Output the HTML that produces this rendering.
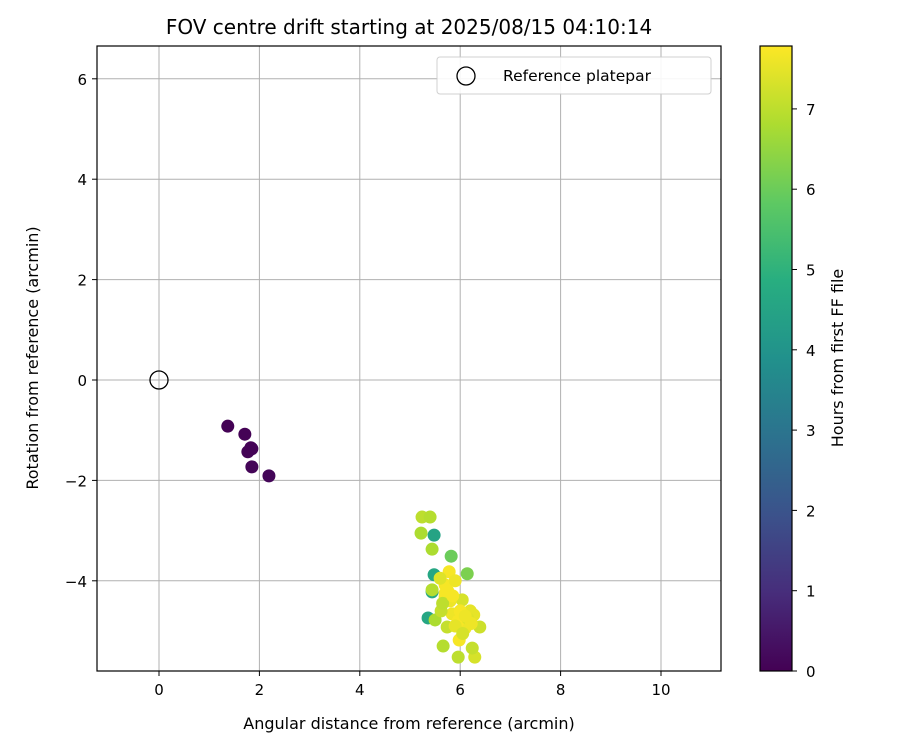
<!DOCTYPE html>
<html><head><meta charset="utf-8"><style>
body{margin:0;background:#fff;font-family:"DejaVu Sans","Liberation Sans",sans-serif}
text{font-family:"DejaVu Sans","Liberation Sans",sans-serif}
</style></head><body>
<svg id="chart" width="900" height="750" viewBox="0 0 900 750">
<defs><linearGradient id="vir" x1="0" y1="1" x2="0" y2="0">
<stop offset="0" stop-color="#440154"/><stop offset="0.125" stop-color="#472d7b"/><stop offset="0.25" stop-color="#3b528b"/><stop offset="0.375" stop-color="#2c728e"/><stop offset="0.5" stop-color="#21918c"/><stop offset="0.625" stop-color="#28ae80"/><stop offset="0.75" stop-color="#5ec962"/><stop offset="0.875" stop-color="#addc30"/><stop offset="1" stop-color="#fde725"/></linearGradient></defs>
<text x="409" y="34" font-size="20" text-anchor="middle">FOV centre drift starting at 2025/08/15 04:10:14</text>
<g id="grid"></g><g id="pts"></g>
<rect x="97" y="46" width="624" height="625" fill="none" stroke="#000" stroke-width="1.2"/>
<g id="ticks"></g>
<text x="409" y="729" font-size="16" text-anchor="middle">Angular distance from reference (arcmin)</text>
<text transform="translate(38,358) rotate(-90)" font-size="16" text-anchor="middle">Rotation from reference (arcmin)</text>
<g>
<rect x="437" y="57" width="274" height="37" rx="3" fill="#fff" stroke="#ccc" opacity="0.9"/>
<circle cx="466" cy="76" r="9" fill="none" stroke="#000" stroke-width="1.3"/>
<text x="503" y="81" font-size="15.5">Reference platepar</text></g>
<rect x="760" y="46" width="32" height="625" fill="url(#vir)" stroke="#000" stroke-width="1.2"/>
<g id="cbticks"></g>
<text transform="translate(843,358) rotate(-90)" font-size="16" text-anchor="middle">Hours from first FF file</text>
</svg>
<script>
const xs=[1.37,1.71,1.85,1.77,1.85,2.19,1.83,5.24,5.40,5.22,5.48,5.44,5.82,5.48,6.14,5.78,5.44,5.44,5.70,5.70,6.04,5.36,5.50,5.74,5.84,6.27,6.10,6.39,5.96,5.66,5.96,6.29,6.24,5.98,5.60,5.90,5.70,6.20,5.62,5.80,6.00,6.15,5.75,5.90,6.05,6.22,5.65,5.85,6.10];
const ys=[-0.92,-1.08,-1.37,-1.43,-1.73,-1.91,-1.35,-2.73,-2.73,-3.05,-3.09,-3.37,-3.51,-3.88,-3.86,-3.82,-4.22,-4.18,-4.08,-4.32,-4.38,-4.74,-4.78,-4.92,-4.66,-4.68,-4.94,-4.92,-4.80,-5.30,-5.52,-5.52,-5.34,-5.18,-3.95,-4.00,-4.25,-4.60,-4.60,-4.40,-4.60,-4.75,-4.20,-4.90,-5.05,-4.85,-4.45,-4.30,-4.70];
const hours=[0.02,0.03,0.05,0.06,0.08,0.1,0.05,7.0,6.9,6.8,4.5,6.8,6.0,4.6,6.2,7.7,4.7,6.9,7.7,7.6,7.3,4.6,6.8,7.1,7.6,7.5,7.6,7.2,7.7,6.9,7.0,7.3,7.1,7.7,7.4,7.6,7.7,7.5,7.1,7.6,7.7,7.4,7.7,7.5,7.3,7.6,7.0,7.7,7.6];
const xTicks=[0,2,4,6,8,10];
const yTicks=[-4,-2,0,2,4,6];
const cTicks=[0,1,2,3,4,5,6,7];
const NS='http://www.w3.org/2000/svg';
const X=v=>159+(v)*50.2, Y=v=>380-(v)*50.2, C=v=>671-v*80.3;
const vir=['#440154','#472d7b','#3b528b','#2c728e','#21918c','#28ae80','#5ec962','#addc30','#fde725'];
function col(h){let t=Math.max(0,Math.min(1,h/7.78))*8;let i=Math.min(7,Math.floor(t)),f=t-i;
const a=vir[i],b=vir[i+1];const p=(s,k)=>parseInt(s.substr(k,2),16);
let r=[1,3,5].map(k=>Math.round(p(a,k)+(p(b,k)-p(a,k))*f));return `rgb(${r})`;}
function mk(tag,at,par,txt){const e=document.createElementNS(NS,tag);for(const k in at)e.setAttribute(k,at[k]);if(txt!=null)e.textContent=txt;document.getElementById(par).appendChild(e);return e;}
xTicks.forEach(v=>{
const g=mk('line',{x1:X(v),x2:X(v),y1:46,y2:671,stroke:'#b0b0b0','stroke-width':1},'grid');


const t=mk('line',{x1:X(v),x2:X(v),y1:671,y2:676,stroke:'#000'},'ticks');


const l=mk('text',{x:X(v),y:695,'font-size':15,'text-anchor':'middle'},'ticks',v);

});
yTicks.forEach(v=>{
const g=mk('line',{x1:97,x2:721,y1:Y(v),y2:Y(v),stroke:'#b0b0b0','stroke-width':1},'grid');


const t=mk('line',{x1:92,x2:97,y1:Y(v),y2:Y(v),stroke:'#000'},'ticks');


const l=mk('text',{x:87,y:Y(v)+6,'font-size':15,'text-anchor':'end'},'ticks',v<0?'\u2212'+(-v):v);

});
cTicks.forEach(v=>{
const t=mk('line',{x1:792,x2:797,y1:C(v),y2:C(v),stroke:'#000'},'cbticks');


const l=mk('text',{x:806,y:C(v)+6,'font-size':15},'cbticks',v);

});
const ref=mk('circle',{cx:X(0),cy:Y(0),r:9,fill:'none',stroke:'#000','stroke-width':1.3},'pts');


xs.forEach((v,i)=>{
const c=mk('circle',{cx:X(v),cy:Y(ys[i]),r:6.5,fill:col(hours[i])},'pts');

});
</script>
</body></html>
